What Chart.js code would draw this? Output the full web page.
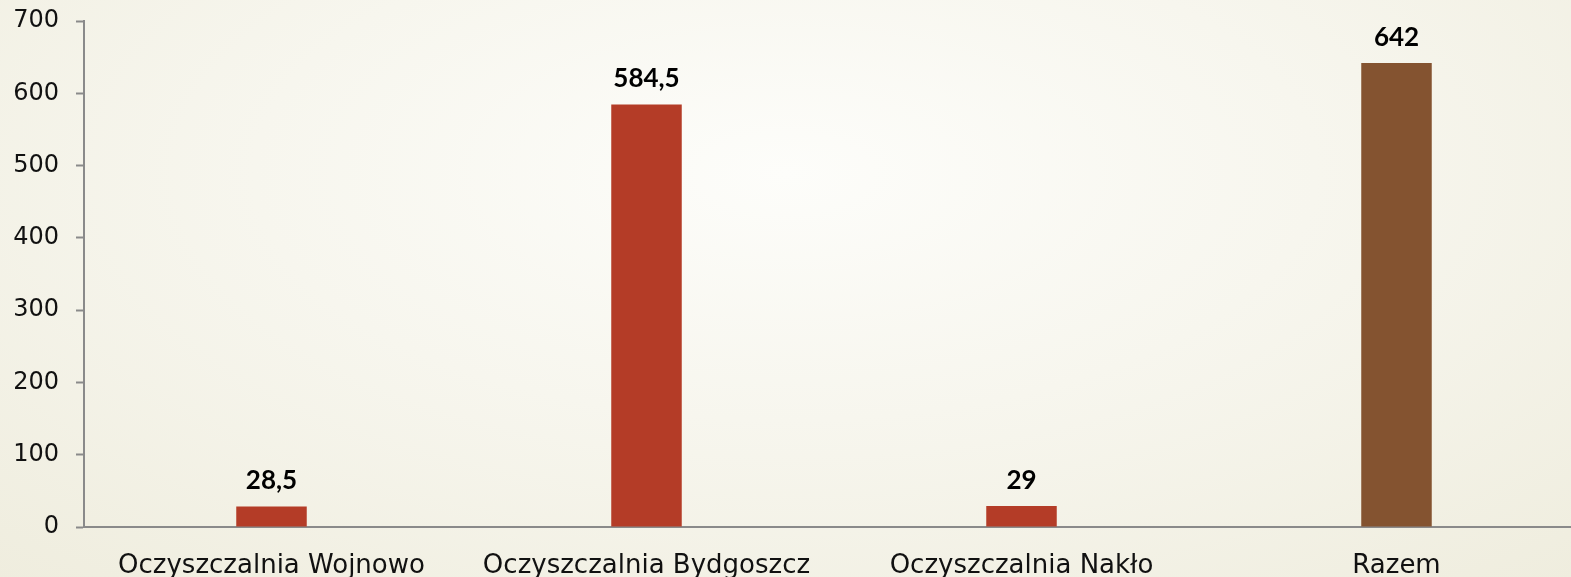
<!DOCTYPE html>
<html lang="pl">
<head>
    <meta charset="UTF-8">
    <title>Oczyszczalnie</title>
    <script src="https://cdn.jsdelivr.net/npm/chart.js"></script>
    <style>
        html, body {
            margin: 0;
            padding: 0;
            overflow: hidden;
            width: 1571px;
            height: 577px;
        }

        body {
            background: radial-gradient(ellipse 75% 95% at 50% 30%, #fdfdfa 0%, #f7f6ee 45%, #efedde 100%);
        }

        .chart-container {
            position: relative;
            width: 1590px;
            height: 577px;
        }
    </style>
</head>
<body>

    <div class="chart-container">
        <canvas id="chart"></canvas>
    </div>

    <script>
        // Data
        const categories = ['Oczyszczalnia Wojnowo', 'Oczyszczalnia Bydgoszcz', 'Oczyszczalnia Nakło', 'Razem'];
        const values = [28.5, 584.5, 29, 642];
        const valueLabels = ['28,5', '584,5', '29', '642'];
        const barColors = ['#b43c27', '#b43c27', '#b43c27', '#845330'];
        const yTicks = [0, 100, 200, 300, 400, 500, 600, 700];

        // draws the value above each bar
        const valueLabelPlugin = {
            id: 'valueLabels',
            afterDatasetsDraw(chart) {
                const ctx = chart.ctx;
                const meta = chart.getDatasetMeta(0);
                ctx.save();
                ctx.font = 'bold 26px Lato';
                ctx.fillStyle = '#000';
                ctx.textAlign = 'center';
                ctx.textBaseline = 'alphabetic';
                meta.data.forEach((bar, i) => {
                    ctx.fillText(valueLabels[i], bar.x, bar.y - 17);
                });
                ctx.restore();
            }
        };

        const ctx = document.getElementById('chart').getContext('2d');

        const chart = new Chart(ctx, {
            type: 'bar',
            data: {
                labels: categories,
                datasets: [{
                    data: values,
                    backgroundColor: barColors,
                    borderWidth: 0,
                    categoryPercentage: 1,
                    barPercentage: 0.188
                }]
            },
            options: {
                responsive: true,
                maintainAspectRatio: false,
                animation: false,
                layout: {
                    padding: { left: 0, right: 6, top: 21, bottom: 0 }
                },
                plugins: {
                    legend: { display: false },
                    tooltip: { enabled: false }
                },
                scales: {
                    y: {
                        min: 0,
                        max: 700,
                        afterBuildTicks(scale) {
                            scale.ticks = yTicks.map(v => ({ value: v }));
                        },
                        afterFit(scale) {
                            scale.width = 84;
                            scale.paddingTop = 0;
                        },
                        border: { display: true, color: '#8a8a8a', width: 2 },
                        grid: {
                            drawOnChartArea: false,
                            drawTicks: true,
                            tickLength: 8,
                            tickColor: '#8a8a8a',
                            tickWidth: 2
                        },
                        ticks: {
                            padding: 17,
                            color: '#111',
                            font: { family: 'DejaVu Sans', size: 24 }
                        }
                    },
                    x: {
                        afterFit(scale) {
                            scale.height = 50;
                        },
                        border: { display: true, color: '#8a8a8a', width: 2 },
                        grid: { display: false },
                        ticks: {
                            padding: 16,
                            color: '#111',
                            maxRotation: 0,
                            autoSkip: false,
                            font: { family: 'DejaVu Sans', size: 26 }
                        }
                    }
                }
            },
            plugins: [valueLabelPlugin]
        });
    </script>
</body>
</html>
